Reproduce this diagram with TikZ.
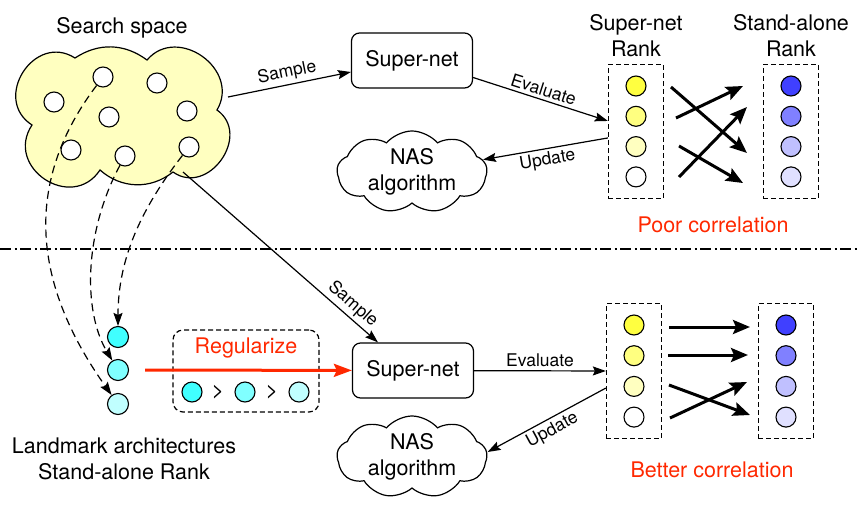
\documentclass[tikz,border=0pt]{standalone}
\usepackage{fontspec}
\setmainfont{TeX Gyre Heros}
\usepackage{tikz}
\usetikzlibrary{shapes.symbols,arrows.meta,positioning,fit}

\definecolor{cloudfill}{RGB}{255,255,192}
\definecolor{ylwA}{RGB}{255,255,64}
\definecolor{ylwB}{RGB}{255,255,128}
\definecolor{ylwC}{RGB}{255,255,192}
\definecolor{bluA}{RGB}{64,64,255}
\definecolor{bluB}{RGB}{128,128,255}
\definecolor{bluC}{RGB}{192,192,255}
\definecolor{bluD}{RGB}{224,224,255}
\definecolor{cynA}{RGB}{64,255,255}
\definecolor{cynB}{RGB}{128,255,255}
\definecolor{cynC}{RGB}{192,255,255}
\definecolor{hotred}{RGB}{255,40,0}

\newcommand{\bigtxt}{\fontsize{21.5}{26}\selectfont}
\newcommand{\smalltxt}{\fontsize{17.5}{20}\selectfont}

\begin{document}
\begin{tikzpicture}[x=1pt, y=-1pt,
    net/.style={rectangle, draw, rounded corners=8pt, line width=1.2pt, minimum width=121pt, minimum height=55pt, font=\bigtxt},
    dot/.style={circle, draw, line width=1.1pt, minimum size=20pt, inner sep=0pt},
    puff/.style={cloud, draw, line width=1.2pt, cloud puffs=9, cloud puff arc=100, cloud ignores aspect, align=center, font=\bigtxt, inner sep=0pt},
    rankbox/.style={draw, dash pattern=on 5pt off 3pt, line width=1.2pt, inner xsep=17pt, inner ysep=11pt},
    title/.style={font=\bigtxt, align=center},
    lbl/.style={font=\smalltxt, inner sep=3pt},
    arrow/.style={-{Stealth[length=13pt, width=9pt, inset=2pt]}, line width=1.2pt},
    bigarrow/.style={-{Stealth[length=17pt, width=14pt, inset=3pt]}, line width=3pt},
    landmark/.style={arrow, dash pattern=on 8pt off 5pt}
]
\useasboundingbox (0,0) rectangle (860,504);

% Search space
\node[title] (sstitle) at (122,28) {Search space};
\draw[line width=1.2pt, fill=cloudfill] (32,125) to[bend left=90, looseness=1.55] (75,58)
    to[bend left=35] (147,60) to[bend left=85, looseness=1.4] (217,110)
    to[bend left=90, looseness=1.45] (173,172) to[bend left=40] (100,170)
    to[bend left=90, looseness=1.6] cycle;
\coordinate (spaceE) at (228,97);
\coordinate (spaceS) at (183,172);
\foreach \n/\x/\y in {1/103/77, 2/157/83, 3/54/102, 4/109/117, 5/187/111, 6/71/150, 7/125/156, 8/189/147}
    \node[dot, fill=white] (a\n) at (\x,\y) {};

% Top pipeline
\node[net] (supA) at (412,60.5) {Super-net};
\node[puff, minimum width=150pt, minimum height=80pt] (nasA) at (412,172) {NAS\\algorithm};
\foreach \i/\c in {1/ylwA, 2/ylwB, 3/ylwC, 4/white}
    \node[dot, fill=\c] (sa\i) at (636,{55.7+30.3*\i}) {};
\foreach \i/\c in {1/bluA, 2/bluB, 3/bluC, 4/bluD}
    \node[dot, fill=\c] (ta\i) at (791,{55.7+30.3*\i}) {};
\node[rankbox, fit=(sa1)(sa4)] (rankSA) {};
\node[rankbox, fit=(ta1)(ta4)] (rankTA) {};
\node[title, above=3pt of rankSA] (sntitle) {Super-net\\Rank};
\node[title, above=3pt of rankTA] (satitle) {Stand-alone\\Rank};
\node[title, text=hotred] (poor) at (713,225) {Poor correlation};

\draw[arrow] (spaceE) -- node[lbl, above, sloped] {Sample} ([yshift=-11.5pt]supA.west);
\draw[arrow] ([yshift=-17pt]supA.east) -- node[lbl, above, sloped] {Evaluate} ([yshift=10.5pt]rankSA.west);
\draw[arrow] ([yshift=-6.5pt]rankSA.west) -- node[lbl, below, sloped] {Update} (nasA);

\coordinate (pa1) at (671,87);  \coordinate (qa3) at (747,153);
\coordinate (pa2) at (676,118); \coordinate (qa1) at (743,86);
\coordinate (pa3) at (679,146); \coordinate (qa4) at (743,183);
\coordinate (pa4) at (679,177); \coordinate (qa2) at (747,107);
\draw[bigarrow] (pa1) -- (qa3);
\draw[bigarrow] (pa2) -- (qa1);
\draw[bigarrow] (pa3) -- (qa4);
\draw[bigarrow] (pa4) -- (qa2);

% Separator
\coordinate (sepL) at (0,249);
\coordinate (sepR) at (860,249);
\draw[line width=1.2pt, dash pattern=on 11pt off 3.5pt on 2pt off 3.5pt] (sepL) -- (sepR);

% Landmark architectures
\foreach \i/\c/\y in {1/cynA/337, 2/cynB/370, 3/cynC/404}
    \node[dot, fill=\c, minimum size=21pt] (lm\i) at (118,\y) {};
\node[title] (lmtitle) at (124,459) {Landmark architectures\\Stand-alone Rank};
\draw[landmark] (a1) .. controls (25,180) and (30,280) .. (lm3);
\draw[landmark] (a7) .. controls (85,230) and (82,310) .. (lm2);
\draw[landmark] (a8) .. controls (140,210) and (118,260) .. (lm1);

% Regularize
\node[draw, dash pattern=on 5pt off 3pt, line width=1.2pt, rounded corners=10pt, minimum width=146pt, minimum height=82pt] (reg) at (246,371) {};
\node[title, text=hotred] (regtxt) at (246,348) {Regularize};
\node[dot, fill=cynA] (r1) at (192,392) {};
\node[dot, fill=cynB] (r2) at (245,392) {};
\node[dot, fill=cynC] (r3) at (299,392) {};
\node[title] (gt1) at (218,392) {>};
\node[title] (gt2) at (272,392) {>};

% Bottom pipeline
\node[net] (supB) at (413,370.5) {Super-net};
\node[puff, minimum width=150pt, minimum height=78pt] (nasB) at (412,457) {NAS\\algorithm};
\foreach \i/\c in {1/ylwA, 2/ylwB, 3/ylwC, 4/white}
    \node[dot, fill=\c] (sb\i) at (634,{294.3+30.7*\i}) {};
\foreach \i/\c in {1/bluA, 2/bluB, 3/bluC, 4/bluD}
    \node[dot, fill=\c] (tb\i) at (786,{294.3+30.7*\i}) {};
\node[rankbox, fit=(sb1)(sb4)] (rankSB) {};
\node[rankbox, fit=(tb1)(tb4)] (rankTB) {};
\node[title, text=hotred] (better) at (712,470) {Better correlation};

\draw[arrow] (spaceS) -- node[lbl, above, sloped, pos=0.83] {Sample} ([xshift=-35pt]supB.north);
\draw[-{Stealth[length=18pt, width=13pt, inset=3pt]}, line width=3pt, hotred, shorten <=16pt] (lm2) -- (supB);
\draw[arrow] (supB) -- node[lbl, above] {Evaluate} (rankSB);
\draw[arrow] ([yshift=-17pt]rankSB.west) -- node[lbl, below, sloped] {Update} ([yshift=5pt]nasB.east);

\coordinate (pb1) at (669,327); \coordinate (qb1) at (750,327);
\coordinate (pb2) at (668,355); \coordinate (qb2) at (748,355);
\coordinate (pb3) at (669,385); \coordinate (qb4) at (750,415);
\coordinate (pb4) at (670,418); \coordinate (qb3) at (747,382);
\draw[bigarrow] (pb1) -- (qb1);
\draw[bigarrow] (pb2) -- (qb2);
\draw[bigarrow] (pb3) -- (qb4);
\draw[bigarrow] (pb4) -- (qb3);

\end{tikzpicture}
\end{document}
